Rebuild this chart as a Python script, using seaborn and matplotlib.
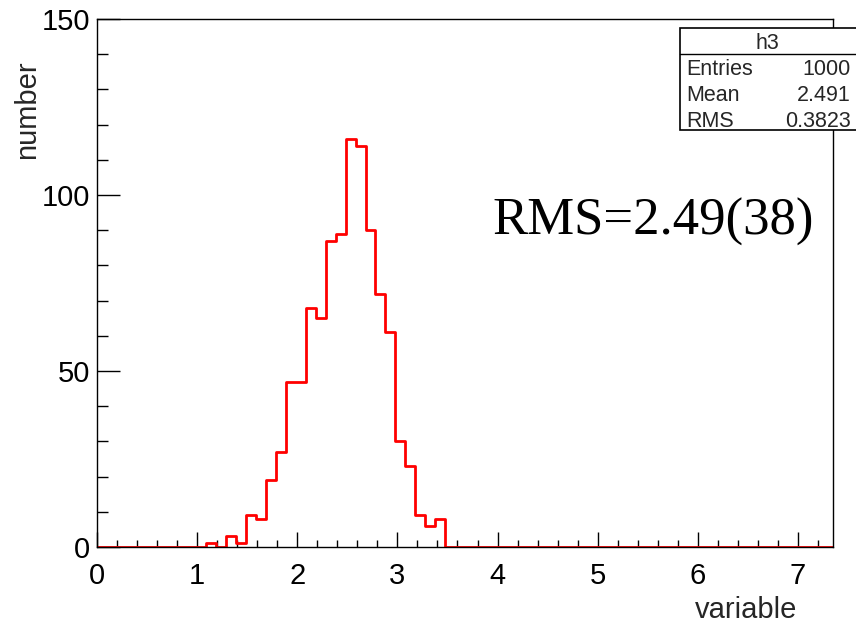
import numpy as np
import pandas as pd
import matplotlib
matplotlib.use("Agg")
import matplotlib.pyplot as plt
from matplotlib.patches import Rectangle
from matplotlib.lines import Line2D
from matplotlib.ticker import MultipleLocator
import seaborn as sns

# ---- data ----
x_min, x_max, n_bins = 0.0, 7.35, 74
first_filled_bin = 11
counts = [1, 0, 3, 1, 9, 8, 19, 27, 47, 47, 68, 65, 87, 89,
          116, 114, 90, 72, 61, 30, 23, 9, 6, 8]
hist_name = "h3"
stat_labels = ["Entries", "Mean", "RMS"]
stat_values = ["1000", "2.491", "0.3823"]
annotation = "RMS=2.49(38)"
x_ticks = [0, 1, 2, 3, 4, 5, 6, 7]
y_ticks = [0, 50, 100, 150]

edges = np.linspace(x_min, x_max, n_bins + 1)
centers = 0.5 * (edges[:-1] + edges[1:])
weights = np.zeros(n_bins)
weights[first_filled_bin:first_filled_bin + len(counts)] = counts
df = pd.DataFrame({"variable": centers, "w": weights})

sns.set_style("white")
plt.rcParams["font.family"] = ["Liberation Sans", "DejaVu Sans"]

W, H = 856, 631
fig = plt.figure(figsize=(W / 100, H / 100), dpi=100)
L, R, T, B = 97, 833, 19, 547
ax = fig.add_axes([L / W, 1 - B / H, (R - L) / W, (B - T) / H])

sns.histplot(data=df, x="variable", weights="w", bins=n_bins,
             binrange=(x_min, x_max), element="step",
             fill=False, color="red", linewidth=2, ax=ax)

ax.set_xlim(x_min, x_max)
ax.set_ylim(0, 150)
ax.set_xticks(x_ticks)
ax.set_yticks(y_ticks)
ax.xaxis.set_minor_locator(MultipleLocator(0.2))
ax.yaxis.set_minor_locator(MultipleLocator(10))
ax.tick_params(axis="both", which="both", direction="in", color="black",
               width=1, labelsize=21, labelcolor="black")
ax.tick_params(axis="x", which="major", length=11, pad=11, bottom=True, top=False)
ax.tick_params(axis="x", which="minor", length=5, bottom=True, top=False)
ax.tick_params(axis="y", which="major", length=16.5, pad=5, left=True, right=False)
ax.tick_params(axis="y", which="minor", length=8, left=True, right=False)
for s in ax.spines.values():
    s.set_visible(True)
    s.set_color("black")
    s.set_linewidth(1)

ax.set_ylabel("number", fontsize=21, rotation=90, ha="center", va="top",
              rotation_mode="default")
ax.yaxis.set_label_coords((27 - L) / (R - L), (B - 60) / (B - T))
ax.set_xlabel("variable", fontsize=21, ha="right", va="center")
ax.xaxis.set_label_coords((797 - L) / (R - L), -(610 - B) / (B - T))

# annotation
ax.text(492 / W, 1 - 235 / H, annotation, transform=fig.transFigure,
        fontsize=38, family=["Liberation Serif", "DejaVu Serif"],
        ha="left", va="baseline", color="black")

# stats box
bx0, bx1, by0, by1 = 680, 858, 28, 130
fig.add_artist(Rectangle((bx0 / W, 1 - by1 / H), (bx1 - bx0) / W, (by1 - by0) / H,
                         transform=fig.transFigure, facecolor="white",
                         edgecolor="black", linewidth=1.2, zorder=5))
fig.add_artist(Line2D([bx0 / W, bx1 / W], [1 - 54 / H, 1 - 54 / H],
                      transform=fig.transFigure, color="black", linewidth=1, zorder=6))
fig.text(767 / W, 1 - 49 / H, hist_name, fontsize=15.5, ha="center", va="baseline", zorder=7)
for i, (lab, val) in enumerate(zip(stat_labels, stat_values)):
    yb = [75, 101, 127][i]
    fig.text(686 / W, 1 - yb / H, lab, fontsize=15.5, ha="left", va="baseline", zorder=7)
    fig.text(851 / W, 1 - yb / H, val, fontsize=15.5, ha="right", va="baseline", zorder=7)

fig.savefig("out.png", dpi=100, facecolor="white")
